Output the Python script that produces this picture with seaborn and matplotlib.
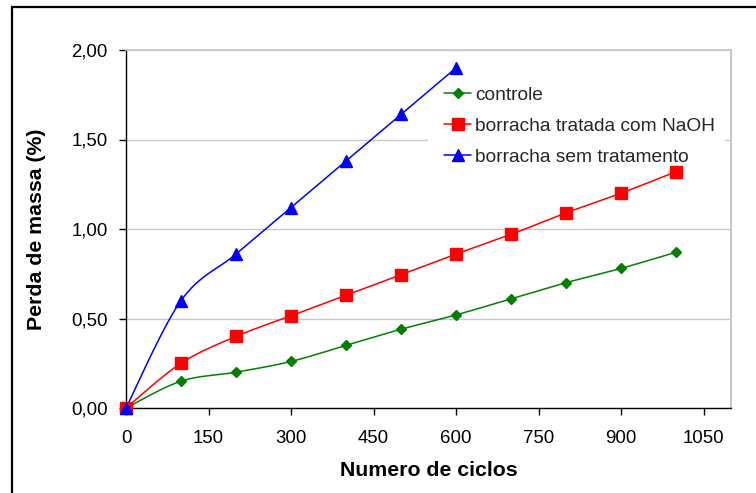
import numpy as np
import pandas as pd
import matplotlib
matplotlib.use("Agg")
import matplotlib.pyplot as plt
from matplotlib.lines import Line2D
from matplotlib.patches import Rectangle
from matplotlib.ticker import FuncFormatter
import seaborn as sns

# ---- data ----
ciclos = [0, 100, 200, 300, 400, 500, 600, 700, 800, 900, 1000]
controle = [0.00, 0.15, 0.20, 0.26, 0.35, 0.44, 0.52, 0.61, 0.70, 0.78, 0.87]
naoh = [0.00, 0.25, 0.40, 0.515, 0.63, 0.745, 0.86, 0.97, 1.09, 1.20, 1.32]
ciclos_sem = [0, 100, 200, 300, 400, 500, 600]
sem_trat = [0.00, 0.60, 0.86, 1.12, 1.38, 1.64, 1.90]

labels = ["controle", "borracha tratada com NaOH", "borracha sem tratamento"]
colors = ["#008000", "#FF0000", "#0000FF"]
markers = ["D", "s", "^"]
msizes = [5.5, 8, 8.5]

x_ticks = [0, 150, 300, 450, 600, 750, 900, 1050]
y_ticks = [0.0, 0.5, 1.0, 1.5, 2.0]


def smooth(xs, ys, n=20):
    """Bezier smoothing (Catmull-Rom style) for drawing the connecting line."""
    xs = np.asarray(xs, float)
    ys = np.asarray(ys, float)
    P = np.column_stack([xs, ys])
    out = [P[0]]
    for i in range(len(P) - 1):
        p0 = P[i - 1] if i > 0 else P[i]
        p1 = P[i]
        p2 = P[i + 1]
        p3 = P[i + 2] if i + 2 < len(P) else P[i + 1]
        c1 = p1 + (p2 - p0) / 6.0
        c2 = p2 - (p3 - p1) / 6.0
        t = np.linspace(0, 1, n)[1:, None]
        seg = ((1 - t) ** 3) * p1 + 3 * ((1 - t) ** 2) * t * c1 + 3 * (1 - t) * t ** 2 * c2 + t ** 3 * p2
        out.extend(seg)
    out = np.array(out)
    return out[:, 0], out[:, 1]


sns.set_theme(style="white")
plt.rcParams["font.family"] = ["Liberation Sans", "DejaVu Sans"]

fig = plt.figure(figsize=(7.56, 4.93), dpi=100)
ax = fig.add_axes([126 / 756, 1 - 408 / 493, (731 - 126) / 756, (408 - 50) / 493])

series = [(ciclos, controle), (ciclos, naoh), (ciclos_sem, sem_trat)]
handles = []
for (xs, ys), lab, c, m, ms in zip(series, labels, colors, markers, msizes):
    sx, sy = smooth(xs, ys)
    sns.lineplot(x=sx, y=sy, ax=ax, color=c, linewidth=1.1, sort=False, estimator=None, zorder=3)
    ax.plot(xs, ys, linestyle="none", marker=m, color=c, markersize=ms, zorder=4, clip_on=False)
    handles.append(Line2D([0], [0], color=c, marker=m, markersize=ms, linewidth=1.1))

ax.set_xlim(0, 1100)
ax.set_ylim(0, 2.0)
ax.set_xticks(x_ticks)
ax.set_yticks(y_ticks)
ax.yaxis.set_major_formatter(FuncFormatter(lambda v, p: f"{v:.2f}".replace(".", ",")))
ax.grid(axis="y", color="#C8C8C8", linewidth=1.0)
ax.grid(axis="x", visible=False)
ax.set_axisbelow(True)

for s in ["left", "bottom"]:
    ax.spines[s].set_color("black")
    ax.spines[s].set_linewidth(1.0)
ax.spines["top"].set_color("#C8C8C8")
ax.spines["right"].set_color("#C8C8C8")
ax.spines["right"].set_linewidth(1.5)

ax.tick_params(axis="both", which="major", direction="out", length=5, width=1,
               color="black", labelsize=13.4, labelcolor="black", bottom=True, left=True)
ax.tick_params(axis="x", pad=11)
ax.tick_params(axis="y", pad=8)

ax.set_xlabel("Numero de ciclos", fontsize=15.3, fontweight="bold", color="black", labelpad=10)
ax.set_ylabel("Perda de massa (%)", fontsize=15.3, fontweight="bold", color="black", labelpad=18)

# white legend background (hides the 1,50 gridline behind the legend)
ax.add_patch(Rectangle((0.499, 0.70), 0.99 - 0.499, 0.19, transform=ax.transAxes,
                       facecolor="white", edgecolor="none", zorder=1))

leg = ax.legend(handles, labels, loc="center left", bbox_to_anchor=(0.525, 0.787),
                frameon=False, fontsize=13.8, handlelength=1.45, handletextpad=0.2,
                labelspacing=0.72, borderaxespad=0, borderpad=0.0)

fig.patches.append(Rectangle((12 / 756, -0.1), 1.2, 1 - 7 / 493 + 0.1, transform=fig.transFigure,
                             fill=False, edgecolor="black", linewidth=1.6))

fig.savefig("out.png", dpi=100, facecolor="white")
